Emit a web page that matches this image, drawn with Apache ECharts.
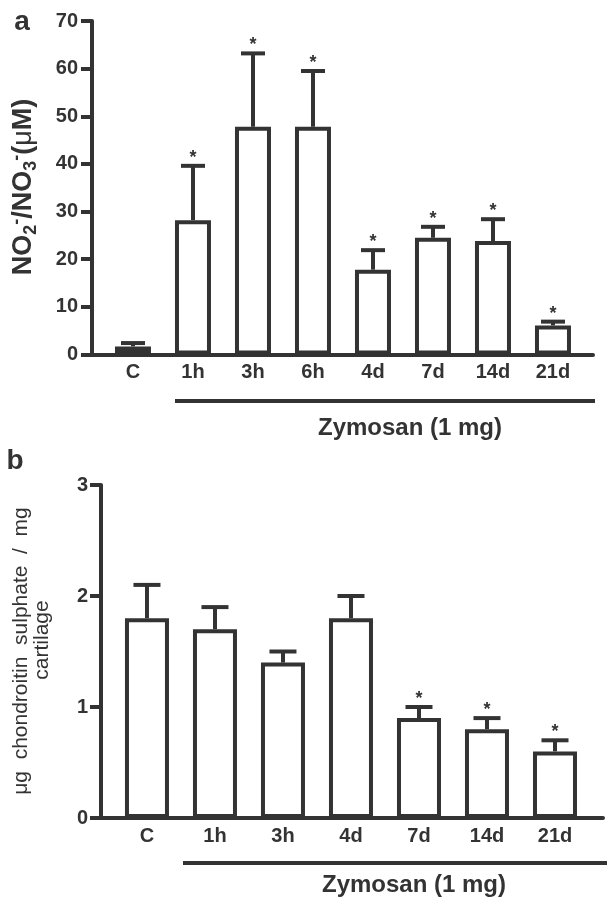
<!DOCTYPE html>
<html>
<head>
<meta charset="utf-8">
<script src="https://cdn.jsdelivr.net/npm/echarts@6/dist/echarts.min.js"></script>
<style>html,body{margin:0;padding:0;background:#fff}#c{width:607px;height:900px}</style>
</head>
<body>
<div id="c"></div>
<script>
// Panel a: nitrite/nitrate
const catsA = ['C', '1h', '3h', '6h', '4d', '7d', '14d', '21d'];
const meanA = [1.7, 28.2, 47.8, 47.8, 17.8, 24.5, 23.8, 6.1];
const semA  = [0.7, 11.4, 15.4, 11.7, 4.1, 2.3, 4.6, 0.8];
const sigA  = [false, true, true, true, true, true, true, true];
const yTicksA = [0, 10, 20, 30, 40, 50, 60, 70];

// Panel b: chondroitin sulphate
const catsB = ['C', '1h', '3h', '4d', '7d', '14d', '21d'];
const meanB = [1.8, 1.7, 1.4, 1.8, 0.9, 0.8, 0.6];
const semB  = [0.3, 0.2, 0.1, 0.2, 0.1, 0.1, 0.1];
const sigB  = [false, false, false, false, true, true, true];
const yTicksB = [0, 1, 2, 3];

const INK = '#333';
const FONT = '"Liberation Sans", Arial, Helvetica, sans-serif';

const chart = echarts.init(document.getElementById('c'), null, {renderer: 'canvas'});

function idx(arr) { return arr.map((_, i) => i); }

function xAxisFor(cats, gridIndex, min, max) {
  return {
    type: 'value', gridIndex, min, max,
    splitLine: {show: false},
    axisLine: {show: true, onZero: false, lineStyle: {color: INK, width: 4}},
    axisTick: {show: false},
    axisLabel: {
      show: true, customValues: idx(cats), margin: 8,
      formatter: v => cats[Math.round(v)] || '',
      color: INK, fontFamily: FONT, fontWeight: 'bold', fontSize: 20
    }
  };
}
function yAxisFor(ticks, gridIndex, margin) {
  return {
    type: 'value', gridIndex,
    min: ticks[0], max: ticks[ticks.length - 1], interval: ticks[1] - ticks[0],
    splitLine: {show: false},
    axisLine: {show: true, onZero: false, lineStyle: {color: INK, width: 4}},
    axisTick: {show: true, length: 11, lineStyle: {color: INK, width: 4}},
    axisLabel: {color: INK, fontFamily: FONT, fontWeight: 'bold', fontSize: 20, margin}
  };
}

function errRender(capW) {
  return function (params, api) {
    const x = api.value(0), m = api.value(1), e = api.value(2), s = api.value(3);
    const p0 = api.coord([x, m]);
    const p1 = api.coord([x, m + e]);
    const children = [
      {type: 'line', shape: {x1: p0[0], y1: p0[1], x2: p1[0], y2: p1[1]}, style: {stroke: INK, lineWidth: 4}},
      {type: 'line', shape: {x1: p1[0] - capW / 2, y1: p1[1], x2: p1[0] + capW / 2, y2: p1[1]}, style: {stroke: INK, lineWidth: 4}}
    ];
    if (s) {
      children.push({type: 'text', x: p1[0], y: p1[1] + 1,
        style: {text: '*', align: 'center', verticalAlign: 'bottom', fontSize: 18, fontFamily: FONT, fontWeight: 'bold', fill: INK}});
    }
    return {type: 'group', children};
  };
}

const option = {
  animation: false,
  backgroundColor: '#fff',
  grid: [
    {left: 92, right: 14, top: 21, bottom: 545.5},
    {left: 101, right: 4, top: 485, bottom: 82}
  ],
  xAxis: [
    xAxisFor(catsA, 0, -0.683, 7.667),
    xAxisFor(catsB, 1, -0.676, 6.706)
  ],
  yAxis: [
    yAxisFor(yTicksA, 0, 14),
    yAxisFor(yTicksB, 1, 13)
  ],
  series: [
    {type: 'bar', xAxisIndex: 0, yAxisIndex: 0, barWidth: 36,
     data: meanA.map((v, i) => [i, v]),
     itemStyle: {color: '#fff', borderColor: INK, borderWidth: 4}},
    {type: 'custom', xAxisIndex: 0, yAxisIndex: 0, renderItem: errRender(24), clip: false,
     data: meanA.map((v, i) => [i, v, semA[i], sigA[i] ? 1 : 0])},
    {type: 'bar', xAxisIndex: 1, yAxisIndex: 1, barWidth: 44,
     data: meanB.map((v, i) => [i, v]),
     itemStyle: {color: '#fff', borderColor: INK, borderWidth: 4}},
    {type: 'custom', xAxisIndex: 1, yAxisIndex: 1, renderItem: errRender(27), clip: false,
     data: meanB.map((v, i) => [i, v, semB[i], sigB[i] ? 1 : 0])}
  ],
  graphic: [
    {type: 'text', x: 22, y: 22, style: {text: 'a', align: 'center', verticalAlign: 'middle', fontSize: 28, fontWeight: 'bold', fontFamily: FONT, fill: INK}},
    {type: 'text', x: 15, y: 461, style: {text: 'b', align: 'center', verticalAlign: 'middle', fontSize: 28, fontWeight: 'bold', fontFamily: FONT, fill: INK}},
    {type: 'text', x: 24, y: 187, rotation: Math.PI / 2,
     style: {
       text: '{b|NO}{sub|2}{sup|-}{b|/NO}{sub|3}{sup|-}{b|(}{mu|μ}{b|M)}',
       align: 'center', verticalAlign: 'middle', fill: INK,
       rich: {
         b: {fontSize: 27, fontWeight: 'bold', fontFamily: FONT, fill: INK, lineHeight: 32, verticalAlign: 'middle'},
         mu: {fontSize: 27, fontWeight: 'normal', fontFamily: FONT, fill: INK, lineHeight: 32, verticalAlign: 'middle'},
         sub: {fontSize: 18, fontWeight: 'bold', fontFamily: FONT, fill: INK, lineHeight: 18, verticalAlign: 'bottom'},
         sup: {fontSize: 18, fontWeight: 'bold', fontFamily: FONT, fill: INK, lineHeight: 18, verticalAlign: 'top'}
       }
     }},
    {type: 'text', x: 21, y: 651, rotation: Math.PI / 2,
     style: {text: 'μg  chondroitin  sulphate  /  mg', align: 'center', verticalAlign: 'middle', fontSize: 21, fontFamily: FONT, fill: INK}},
    {type: 'text', x: 42, y: 640, rotation: Math.PI / 2,
     style: {text: 'cartilage', align: 'center', verticalAlign: 'middle', fontSize: 21, fontFamily: FONT, fill: INK}},
    {type: 'line', shape: {x1: 175, y1: 401, x2: 595, y2: 401}, style: {stroke: INK, lineWidth: 4}},
    {type: 'text', x: 410, y: 428, style: {text: 'Zymosan (1 mg)', align: 'center', verticalAlign: 'middle', fontSize: 24, fontWeight: 'bold', fontFamily: FONT, fill: INK}},
    {type: 'line', shape: {x1: 183, y1: 863, x2: 607, y2: 863}, style: {stroke: INK, lineWidth: 4}},
    {type: 'text', x: 414, y: 885, style: {text: 'Zymosan (1 mg)', align: 'center', verticalAlign: 'middle', fontSize: 24, fontWeight: 'bold', fontFamily: FONT, fill: INK}}
  ]
};
chart.setOption(option);
</script>
</body>
</html>
